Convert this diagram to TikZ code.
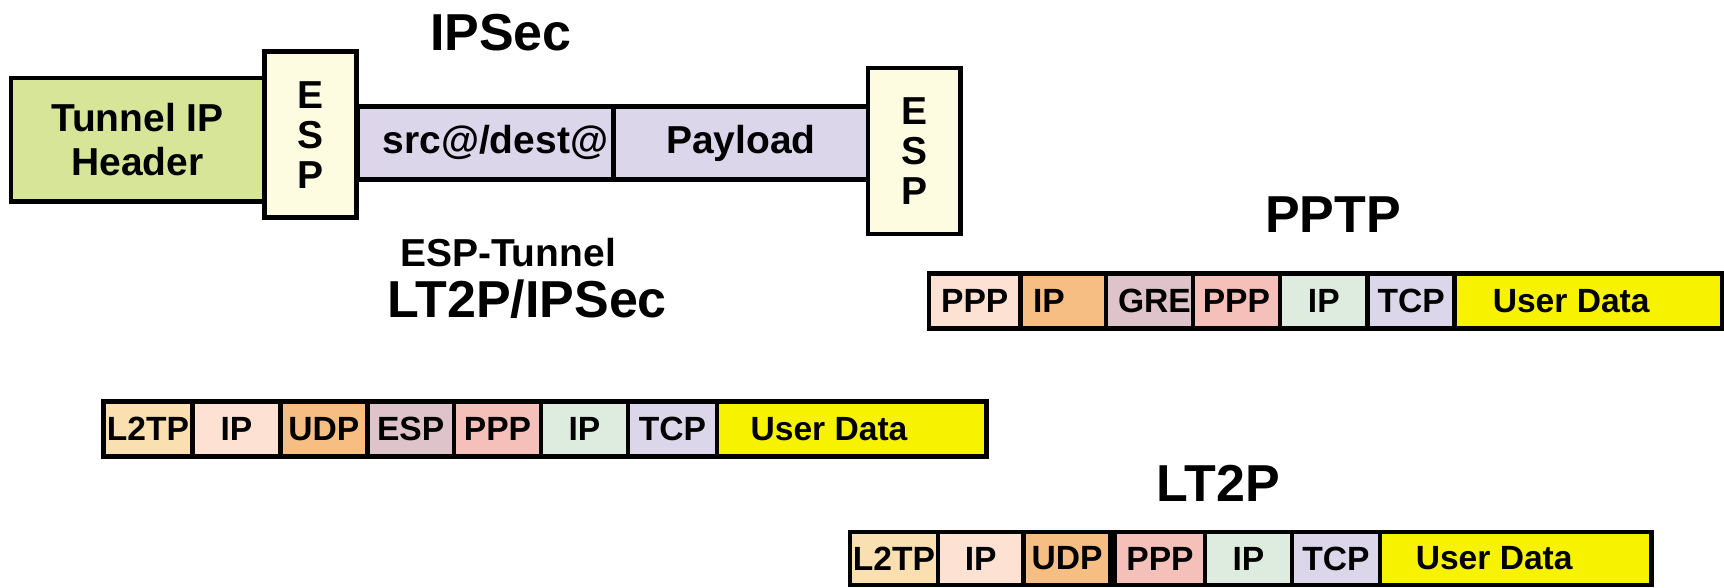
\documentclass[tikz,border=0pt]{standalone}
\usepackage{fontspec}
\setmainfont{Liberation Sans}
\definecolor{tunnelgreen}{RGB}{215,229,152}
\definecolor{espyellow}{RGB}{254,252,224}
\definecolor{lavender}{RGB}{220,214,234}
\definecolor{peach}{RGB}{253,225,210}
\definecolor{iporange}{RGB}{246,190,130}
\definecolor{mauve}{RGB}{222,196,202}
\definecolor{pppink}{RGB}{246,192,186}
\definecolor{mint}{RGB}{222,236,224}
\definecolor{tan}{RGB}{250,223,176}
\definecolor{userdata}{RGB}{247,243,0}
\newlength\pu
\setlength\pu{0.55pt}

\begin{document}
\begin{tikzpicture}[x=0.55pt,y=-0.55pt,
 title/.style={inner sep=0pt,font=\fontsize{26}{30}\selectfont\bfseries},
 sub/.style={inner sep=0pt,font=\fontsize{19.5}{22}\selectfont\bfseries},
 box/.style={draw,line width=2.3pt,inner sep=0pt,align=center,font=\fontsize{19.5}{22}\selectfont\bfseries},
 esp/.style={box,fill=espyellow,minimum width=84*\pu,minimum height=151*\pu,font=\fontsize{19.5}{20}\selectfont\bfseries},
 cell/.style={draw,line width=2.3pt,inner sep=0pt,minimum height=50*\pu,font=\fontsize{16.8}{18}\selectfont\bfseries},
 udata/.style={cell,fill=userdata}
]
\useasboundingbox (0,0) rectangle (1568,534);

\node[box,fill=tunnelgreen,minimum width=230*\pu,minimum height=112*\pu] (tunnel) at (125,127) {Tunnel IP\\Header};
\node[box,fill=lavender,minimum width=233*\pu,minimum height=66*\pu] (addr) at (441.5,130) {\hspace{18\pu}src@/dest@};
\node[box,fill=lavender,minimum width=232*\pu,minimum height=66*\pu] (payload) at (674,130) {Payload};
\node[esp] (esp1) at (282.5,122.5) {E\\S\\P};
\node[esp] (esp2) at (831.5,137.5) {E\\S\\P};
\node[title] (ipsec) at (455.5,30) {IPSec};
\node[sub] (espt) at (462,230) {ESP-Tunnel};
\node[title] (l2ipsec) at (479.5,272) {LT2P/IPSec};
\node[title] (pptp) at (1212.5,195) {PPTP};
\node[title] (lt2p) at (1108,440) {LT2P};

\node[cell,fill=peach,minimum width=83*\pu] (p1) at (886.5,274) {PPP};
\node[cell,fill=iporange,minimum width=78*\pu] (p2) at (967,274) {IP\hspace*{26\pu}};
\node[cell,fill=mauve,minimum width=79*\pu] (p3) at (1045.5,274) {\hspace{9\pu}GRE};
\node[cell,fill=pppink,minimum width=79*\pu] (p4) at (1124.5,274) {PPP};
\node[cell,fill=mint,minimum width=80*\pu] (p5) at (1204,274) {IP};
\node[cell,fill=lavender,minimum width=79*\pu] (p6) at (1283.5,274) {TCP};
\node[udata,minimum width=243*\pu] (p7) at (1444.5,274) {User Data\hspace*{31\pu}};

\node[cell,fill=tan,minimum width=81*\pu] (s1) at (134.5,390) {L2TP};
\node[cell,fill=peach,minimum width=80*\pu] (s2) at (215,390) {IP};
\node[cell,fill=iporange,minimum width=79*\pu] (s3) at (294.5,390) {UDP};
\node[cell,fill=mauve,minimum width=79*\pu] (s4) at (373.5,390) {ESP};
\node[cell,fill=pppink,minimum width=79*\pu] (s5) at (452.5,390) {PPP};
\node[cell,fill=mint,minimum width=79*\pu] (s6) at (531.5,390) {IP};
\node[cell,fill=lavender,minimum width=81*\pu] (s7) at (611.5,390) {TCP};
\node[udata,minimum width=245*\pu] (s8) at (774.5,390) {User Data\hspace*{41\pu}};

\node[cell,fill=tan,minimum width=80*\pu,minimum height=48*\pu] (l1) at (813,508) {L2TP};
\node[cell,fill=peach,minimum width=78*\pu,minimum height=48*\pu] (l2) at (892,508) {IP};
\node[cell,fill=iporange,minimum width=79*\pu,minimum height=48*\pu] (l3) at (970.5,508) {UDP};
\node[cell,fill=pppink,minimum width=82*\pu,minimum height=48*\pu] (l4) at (1055,508) {PPP};
\node[cell,fill=mint,minimum width=79*\pu,minimum height=48*\pu] (l5) at (1135.5,508) {IP};
\node[cell,fill=lavender,minimum width=80*\pu,minimum height=48*\pu] (l6) at (1215,508) {TCP};
\node[udata,minimum width=247*\pu,minimum height=48*\pu] (l7) at (1378.5,508) {User Data\hspace*{39\pu}};
\end{tikzpicture}
\end{document}
